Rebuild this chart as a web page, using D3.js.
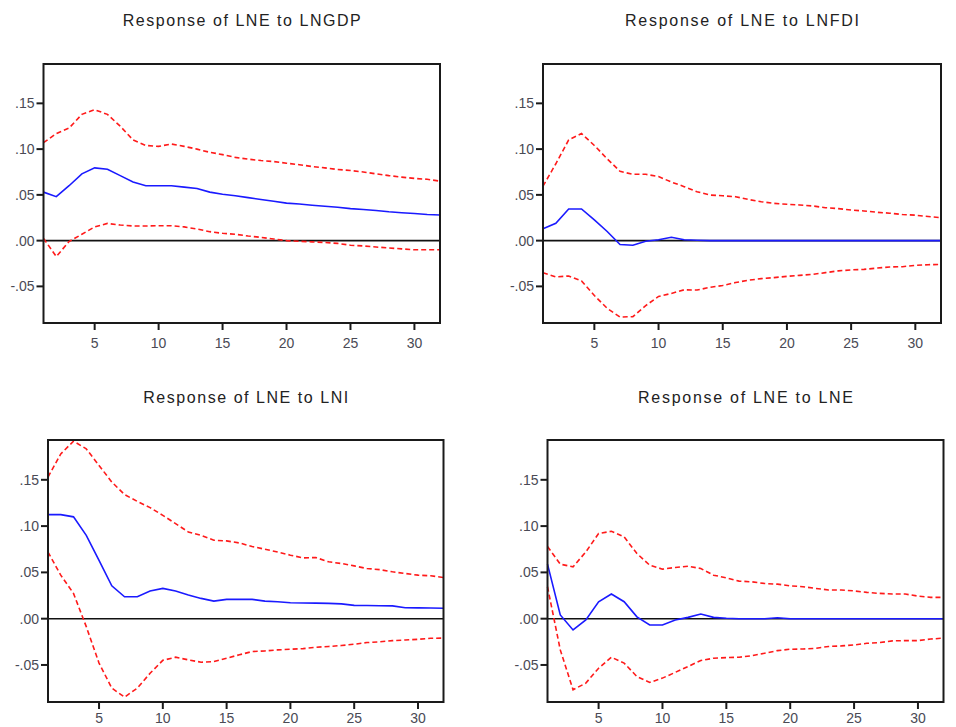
<!DOCTYPE html>
<html>
  <head>
    <meta charset="utf-8">
    <title>Impulse responses of LNE</title>
    <script src="https://d3js.org/d3.v7.min.js"></script>
    <style>
      body { margin: 0; background: #fff; }

      .frame {
        fill: none;
        stroke: #1a1a1a;
        stroke-width: 2px;
      }

      .zero_line {
        stroke: #111;
        stroke-width: 1.6px;
      }

      .resp_line {
        fill: none;
        stroke: #1a1aff;
        stroke-width: 1.6px;
      }

      .band_line {
        fill: none;
        stroke: #ff1a1a;
        stroke-width: 1.6px;
        stroke-dasharray: 5,3;
      }

      .tick_mark {
        stroke: #1a1a1a;
        stroke-width: 2px;
      }

      .tick_label {
        font-family: "Liberation Sans Narrow", "Arial Narrow", "Liberation Sans", Arial, sans-serif;
        font-size: 14px;
        fill: #4a4a55;
      }

      .title {
        font-family: "Liberation Sans", Arial, sans-serif;
        font-size: 16px;
        fill: #222;
        text-anchor: middle;
      }
    </style>
  </head>

  <body>
    <script>

      // data: periods 1..32
      var periods = [1, 2, 3, 4, 5, 6, 7, 8, 9, 10, 11, 12, 13, 14, 15, 16,
                     17, 18, 19, 20, 21, 22, 23, 24, 25, 26, 27, 28, 29, 30, 31, 32];

      var titles = ["Response of LNE to LNGDP", "Response of LNE to LNFDI",
                    "Response of LNE to LNI", "Response of LNE to LNE"];

      var yTicks = [-0.05, 0.00, 0.05, 0.10, 0.15];
      var yTickLabels = ["-.05", ".00", ".05", ".10", ".15"];
      var xTicks = [5, 10, 15, 20, 25, 30];

      // LNE to LNGDP
      var gdpResp  = [0.053, 0.048, 0.060, 0.073, 0.0795, 0.078, 0.071, 0.064, 0.060, 0.060, 0.060, 0.0585,
                      0.057, 0.053, 0.0506, 0.049, 0.047, 0.045, 0.043, 0.041, 0.040, 0.0387, 0.0376, 0.0365,
                      0.035, 0.034, 0.033, 0.0315, 0.0304, 0.0296, 0.0286, 0.028];
      var gdpUpper = [0.107, 0.117, 0.123, 0.138, 0.143, 0.138, 0.125, 0.110, 0.104, 0.103, 0.1055, 0.103,
                      0.100, 0.0965, 0.094, 0.091, 0.089, 0.0875, 0.0864, 0.0846, 0.083, 0.081, 0.0795, 0.0777,
                      0.0766, 0.075, 0.073, 0.071, 0.0694, 0.068, 0.067, 0.065];
      var gdpLower = [0.0025, -0.0174, -0.001, 0.007, 0.015, 0.0188, 0.017, 0.016, 0.016, 0.0163, 0.0163, 0.015,
                      0.0127, 0.0098, 0.008, 0.007, 0.005, 0.0036, 0.0018, 0.000, -0.0007, -0.0014, -0.002, -0.003,
                      -0.005, -0.0058, -0.007, -0.008, -0.009, -0.010, -0.010, -0.010];

      // LNE to LNFDI
      var fdiResp  = [0.013, 0.019, 0.0346, 0.0346, 0.0227, 0.010, -0.0043, -0.005, -0.0007, 0.001, 0.0036, 0.001,
                      0.0005, 0, 0, 0, 0, 0, 0, 0, 0, 0, 0, 0,
                      0, 0, 0, 0, 0, 0, 0, 0];
      var fdiUpper = [0.0595, 0.084, 0.110, 0.117, 0.104, 0.0894, 0.0757, 0.0725, 0.0725, 0.070, 0.064, 0.059,
                      0.0534, 0.0498, 0.049, 0.048, 0.045, 0.0425, 0.0407, 0.0397, 0.039, 0.0379, 0.036, 0.035,
                      0.0335, 0.0324, 0.031, 0.030, 0.0285, 0.0278, 0.0263, 0.025];
      var fdiLower = [-0.035, -0.0397, -0.0386, -0.044, -0.060, -0.074, -0.0836, -0.083, -0.071, -0.061, -0.0577, -0.0537,
                      -0.054, -0.051, -0.049, -0.0458, -0.0433, -0.0415, -0.0404, -0.039, -0.038, -0.0368, -0.035, -0.033,
                      -0.032, -0.0314, -0.030, -0.0288, -0.0285, -0.027, -0.0263, -0.026];

      // LNE to LNI
      var niResp   = [0.1124, 0.1124, 0.110, 0.090, 0.063, 0.0355, 0.0237, 0.0237, 0.030, 0.0327, 0.030, 0.0255,
                      0.0219, 0.019, 0.0208, 0.0208, 0.0208, 0.019, 0.0183, 0.0172, 0.0169, 0.0168, 0.0165, 0.016,
                      0.0144, 0.0143, 0.014, 0.0138, 0.0118, 0.0117, 0.0115, 0.0113];
      var niUpper  = [0.153, 0.178, 0.1917, 0.1834, 0.1655, 0.1476, 0.134, 0.1267, 0.120, 0.1116, 0.1027, 0.0937,
                      0.090, 0.0847, 0.084, 0.0818, 0.078, 0.075, 0.0721, 0.0686, 0.0657, 0.066, 0.0614, 0.0596,
                      0.057, 0.0542, 0.053, 0.0506, 0.0488, 0.047, 0.0463, 0.0445];
      var niLower  = [0.072, 0.047, 0.0273, -0.0086, -0.048, -0.075, -0.0847, -0.075, -0.059, -0.045, -0.0416, -0.0445,
                      -0.047, -0.0463, -0.0427, -0.039, -0.0355, -0.0348, -0.0337, -0.033, -0.0323, -0.0309, -0.030, -0.029,
                      -0.0276, -0.0258, -0.025, -0.0237, -0.023, -0.0223, -0.0212, -0.021];

      // LNE to LNE
      var neResp   = [0.0589, 0.004, -0.0122, -0.0014, 0.0183, 0.0266, 0.0183, 0.002, -0.0068, -0.0068, -0.0014, 0.0014,
                      0.005, 0.0014, 0.0005, 0, 0, 0, 0.001, 0, 0, 0, 0, 0,
                      0, 0, 0, 0, 0, 0, 0, 0];
      var neUpper  = [0.078, 0.0589, 0.056, 0.0721, 0.0919, 0.0944, 0.0883, 0.0704, 0.0578, 0.0535, 0.0553, 0.0567,
                      0.0542, 0.047, 0.0441, 0.0406, 0.0398, 0.038, 0.0373, 0.0355, 0.0345, 0.0327, 0.031, 0.031,
                      0.030, 0.0284, 0.0273, 0.0266, 0.0266, 0.0244, 0.023, 0.023];
      var neLower  = [0.0345, -0.0337, -0.0768, -0.0696, -0.0535, -0.0416, -0.048, -0.0625, -0.0689, -0.0642, -0.058, -0.0517,
                      -0.0452, -0.0427, -0.042, -0.0416, -0.040, -0.0373, -0.0345, -0.033, -0.0327, -0.032, -0.030, -0.0294,
                      -0.0284, -0.0266, -0.0258, -0.024, -0.0237, -0.0237, -0.022, -0.021];

      // panel layout (pixel frame of each plot area)
      var frames = [
        { left: 43.5, right: 440,   top: 64,  bottom: 323, titleY: 26,  labelDy: 25 },
        { left: 543,  right: 941,   top: 64,  bottom: 323, titleY: 26,  labelDy: 25 },
        { left: 48,   right: 443.5, top: 440, bottom: 702, titleY: 403, labelDy: 21 },
        { left: 547.5,right: 943.5, top: 440, bottom: 702, titleY: 403, labelDy: 21 }
      ];
      var titleWidths = [238, 234, 205, 215];

      var panels = [
        [gdpResp, gdpUpper, gdpLower],
        [fdiResp, fdiUpper, fdiLower],
        [niResp, niUpper, niLower],
        [neResp, neUpper, neLower]
      ];

      var svg = d3.select("body").append("svg")
          .attr("width", 956)
          .attr("height", 727);

      panels.forEach(function(series, k) {
        var f = frames[k];

        var xScale = d3.scaleLinear()
          .domain([1, 32])
          .range([f.left, f.right]);

        var yScale = d3.scaleLinear()
          .domain([-0.09, 0.193])
          .range([f.bottom, f.top]);

        var g = svg.append("g");

        // zero line
        g.append("line")
          .attr("class", "zero_line")
          .attr("x1", f.left).attr("x2", f.right)
          .attr("y1", yScale(0)).attr("y2", yScale(0));

        var line = d3.line()
          .x(function(d, i) { return xScale(periods[i]); })
          .y(function(d) { return yScale(d); });

        // confidence bands, then response
        g.append("path").attr("class", "band_line").attr("d", line(series[1]));
        g.append("path").attr("class", "band_line").attr("d", line(series[2]));
        g.append("path").attr("class", "resp_line").attr("d", line(series[0]));

        // frame
        g.append("rect")
          .attr("class", "frame")
          .attr("x", f.left).attr("y", f.top)
          .attr("width", f.right - f.left)
          .attr("height", f.bottom - f.top);

        // y ticks (outside, left)
        g.selectAll(".ytick")
          .data(yTicks)
          .enter()
          .append("line")
          .attr("class", "tick_mark")
          .attr("x1", f.left - 7).attr("x2", f.left)
          .attr("y1", function(d) { return yScale(d); })
          .attr("y2", function(d) { return yScale(d); });

        g.selectAll(".ylab")
          .data(yTicks)
          .enter()
          .append("text")
          .attr("class", "tick_label")
          .attr("text-anchor", "end")
          .attr("x", f.left - 9)
          .attr("y", function(d) { return yScale(d) + 5; })
          .text(function(d, i) { return yTickLabels[i]; });

        // x ticks (outside, bottom)
        g.selectAll(".xtick")
          .data(xTicks)
          .enter()
          .append("line")
          .attr("class", "tick_mark")
          .attr("x1", function(d) { return xScale(d); })
          .attr("x2", function(d) { return xScale(d); })
          .attr("y1", f.bottom).attr("y2", f.bottom + 7);

        g.selectAll(".xlab")
          .data(xTicks)
          .enter()
          .append("text")
          .attr("class", "tick_label")
          .attr("text-anchor", "middle")
          .attr("x", function(d) { return xScale(d); })
          .attr("y", f.bottom + f.labelDy)
          .text(function(d) { return d; });

        // title
        svg.append("text")
          .attr("class", "title")
          .attr("x", (f.left + f.right) / 2)
          .attr("y", f.titleY)
          .attr("textLength", titleWidths[k])
          .attr("lengthAdjust", "spacing")
          .text(titles[k]);
      });

    </script>
  </body>
</html>
